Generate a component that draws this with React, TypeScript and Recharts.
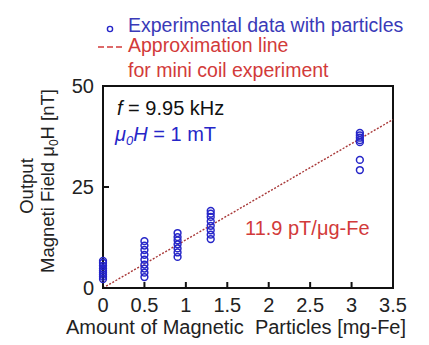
import { ComposedChart, Scatter, Line, XAxis, YAxis, ReferenceArea } from "recharts";

const xTicks = [0, 0.5, 1, 1.5, 2, 2.5, 3, 3.5];
const yTicks = [0, 25, 50];

// measured output field per particle amount
const amount0 = [2.2, 2.8, 3.3, 3.8, 4.3, 4.8, 5.5, 6.2, 6.7];
const amount05 = [2.7, 3.8, 4.8, 5.8, 7.0, 8.2, 9.4, 10.5, 11.6];
const amount09 = [7.7, 8.8, 9.8, 10.8, 11.8, 12.6, 13.6];
const amount13 = [12.1, 13.2, 14.3, 15.4, 16.5, 17.6, 18.4, 19.1];
const amount31 = [29.2, 31.7, 36.1, 36.6, 37.2, 37.8, 38.4];

const points = [
  ...amount0.map((y) => ({ x: 0, y })),
  ...amount05.map((y) => ({ x: 0.5, y })),
  ...amount09.map((y) => ({ x: 0.9, y })),
  ...amount13.map((y) => ({ x: 1.3, y })),
  ...amount31.map((y) => ({ x: 3.1, y })),
];

// approximation line end points
const fitLine = [
  { x: 0, y: 0 },
  { x: 3.5, y: 41.7 },
];

const font = "Arial, 'Liberation Sans', sans-serif";
const blue = "#2626c8";
const red = "#d23a3a";

const Ring = (p: any) => (
  <circle cx={p.cx} cy={p.cy} r={3.4} fill="none" stroke={blue} strokeWidth={1.5} />
);

export default function App() {
  return (
    <div style={{ position: "absolute", left: 0, top: 0, width: 429, height: 345, background: "#fff" }}>
      <ComposedChart width={429} height={345} margin={{ top: 86, right: 36, left: 0, bottom: 0 }}>
        <XAxis
          dataKey="x"
          type="number"
          domain={[0, 3.5]}
          ticks={xTicks}
          axisLine={false}
          tickSize={-6}
          tickMargin={16}
          height={57}
          tickLine={{ stroke: "#111", strokeWidth: 2 }}
          tick={{ fontSize: 20, fill: "#222", fontFamily: font }}
        />
        <YAxis
          type="number"
          domain={[0, 50]}
          ticks={yTicks}
          axisLine={false}
          tickSize={-6}
          tickMargin={15}
          width={103}
          tickLine={{ stroke: "#111", strokeWidth: 2 }}
          tick={{ fontSize: 20, fill: "#222", fontFamily: font }}
        />
        <ReferenceArea x1={0} x2={3.5} y1={0} y2={50} fill="none" stroke="#111" strokeWidth={2} />
        <Line
          data={fitLine}
          dataKey="y"
          stroke="#a83838"
          strokeWidth={1.4}
          strokeDasharray="2 1.6"
          dot={false}
          isAnimationActive={false}
        />
        <Scatter data={points} dataKey="y" shape={Ring} isAnimationActive={false} />
      </ComposedChart>
      <svg
        width={429}
        height={345}
        style={{ position: "absolute", left: 0, top: 0, pointerEvents: "none", fontFamily: font }}
      >
        <circle cx={110} cy={29} r={2.6} fill="none" stroke={blue} strokeWidth={1.4} />
        <text x={128} y={32} fontSize={19.5} fill="#3a3ab8">Experimental data with particles</text>
        <line x1={98} y1={47} x2={123} y2={47} stroke={red} strokeWidth={1.4} strokeDasharray="6 3" />
        <text x={128} y={52} fontSize={19.5} fill={red}>Approximation line</text>
        <text x={128} y={77} fontSize={19.5} fill={red}>for mini coil experiment</text>

        <text x={117} y={115} fontSize={20} fill="#111">
          <tspan fontStyle="italic">f</tspan> = 9.95 kHz
        </text>
        <text x={115} y={141} fontSize={20} fill={blue}>
          <tspan fontStyle="italic">μ</tspan>
          <tspan fontStyle="italic" fontSize={13} dy={4}>0</tspan>
          <tspan fontStyle="italic" dy={-4}>H</tspan> = 1 mT
        </text>
        <text x={245} y={235} fontSize={20} fill={red}>11.9 pT/μg-Fe</text>

        <text x={0} y={0} fontSize={18.5} fill="#222" textAnchor="middle" transform="translate(33,186) rotate(-90)">
          Output
        </text>
        <text x={0} y={0} fontSize={18.5} fill="#222" textAnchor="middle" transform="translate(54,181) rotate(-90)">
          Magneti Field μ<tspan fontSize={12} dy={4}>0</tspan>
          <tspan dy={-4}>H [nT]</tspan>
        </text>
        <text x={236} y={334} fontSize={20} fill="#222" textAnchor="middle" style={{ whiteSpace: "pre" }}>
          Amount of Magnetic  Particles [mg-Fe]
        </text>
      </svg>
    </div>
  );
}
